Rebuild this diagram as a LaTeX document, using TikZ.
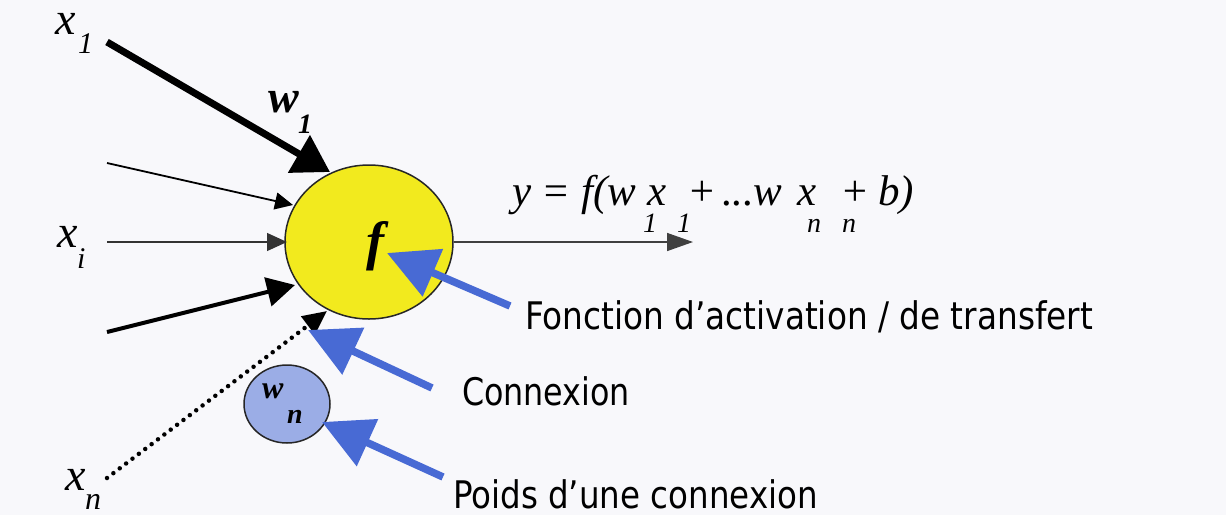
\documentclass[tikz,border=0pt]{standalone}
\usepackage{fontspec}
\usepackage{graphicx}
\setmainfont{Liberation Serif}
\newfontfamily\labelfont{DejaVu Sans}
\usetikzlibrary{arrows.meta,shapes.geometric}
\definecolor{bgcol}{RGB}{248,248,251}
\definecolor{neuronyellow}{RGB}{242,234,30}
\definecolor{weightblue}{RGB}{155,173,230}
\definecolor{pointerblue}{RGB}{72,106,212}
\newcommand{\setfs}[1]{\fontsize{#1}{#1}\selectfont}
\newcommand{\at}[2]{\makebox[0pt][l]{\hspace*{#1}#2}}
\newcommand{\subsc}[1]{\raisebox{-27pt}{\setfs{28}#1}}
\begin{document}
\begin{tikzpicture}[x=1pt,y=-1pt,
  txt/.style={inner sep=0pt, outer sep=0pt, anchor=base west},
  serifit/.style={txt, font=\itshape\setfs{#1}},
  serifbi/.style={txt, font=\bfseries\itshape\setfs{#1}},
  sanslbl/.style={txt, font=\labelfont\setfs{38}},
  thickin/.style={line width=7pt, -{Triangle[length=36pt,width=42pt]}},
  thinin/.style={line width=1.8pt, -{Triangle[length=18pt,width=17pt]}},
  hairin/.style={line width=1.2pt, black!80, -{Triangle[length=20pt,width=18pt]}},
  medin/.style={line width=4pt, -{Triangle[length=28pt,width=29pt]}},
  dotin/.style={line width=4.5pt, line cap=round, dash pattern=on 0pt off 8pt, -{Triangle[length=24pt,width=22pt]}},
  outarrow/.style={line width=1.5pt, black!75, -{Triangle[length=26pt,width=18pt]}},
  pointer/.style={line width=7.5pt, pointerblue, -{Triangle[length=50pt,width=50pt]}}
]
\fill[bgcol] (0,0) rectangle (1226,515);
\useasboundingbox (0,0) rectangle (1226,515);

% neuron body and weight circle
\node[ellipse, draw=black!85, line width=1.5pt, fill=neuronyellow,
      minimum width=168pt, minimum height=154pt, inner sep=0pt] (neuron) at (369,242) {};
\node[ellipse, draw=black!85, line width=1.5pt, fill=weightblue,
      minimum width=86pt, minimum height=78pt, inner sep=0pt] (weight) at (287,404) {};

% input labels
\node[serifit=46] (x1) at (55,34) {x};
\node[serifit=30] (x1s) at (78,53) {1};
\node[serifbi=46] (w1) at (268,112) {w};
\node[serifbi=28] (w1s) at (298,133) {1};
\node[serifit=46] (xi) at (57,247) {x};
\node[serifit=30] (xis) at (77,268) {i};
\node[serifit=46] (xn) at (65,490) {x};
\node[serifit=32] (xns) at (85,509) {n};
\node[serifbi=32] (wn) at (262,398) {w};
\node[serifbi=28] (wns) at (287,423) {n};
\node[serifbi=54, anchor=center] (fsym) at (375,246) {f};

% formula (one node, pieces placed by offset from its left edge)
\node[serifit=43] (formula) at (512,205) {%
  \at{0pt}{y = f(w}\at{131pt}{\subsc{1}}\at{135pt}{x}\at{165pt}{\subsc{1}}%
  \at{175pt}{+}\at{210pt}{...}\at{241pt}{w}\at{285pt}{x}\at{295pt}{\subsc{n}}%
  \at{328pt}{+}\at{330pt}{\subsc{n}}\at{366pt}{b)}\hspace*{415pt}};

% sans labels
\node[sanslbl] (lfonc) at (525,329) {\resizebox{568pt}{\height}{Fonction d’activation / de transfert}};
\node[sanslbl] (lconn) at (462,405) {\resizebox{168pt}{\height}{Connexion}};
\node[sanslbl] (lpoids) at (453,508) {\resizebox{365pt}{\height}{Poids d’une connexion}};

% coordinates
\coordinate (s1) at (107,42);   \coordinate (t1) at (330,172);
\coordinate (s2) at (107,163);  \coordinate (t2) at (293,205);
\coordinate (s3) at (107,242);  \coordinate (t3) at (287,242);
\coordinate (s4) at (107,332);  \coordinate (t4) at (295,285);
\coordinate (s5) at (107,478);  \coordinate (t5) at (327,311);
\coordinate (yout) at (693,242);
\coordinate (pf) at (510,306);  \coordinate (pft) at (387,253);
\coordinate (pc) at (432,388);  \coordinate (pct) at (308,330);
\coordinate (pp) at (443,477);  \coordinate (ppt) at (322,422);

% input connectors
\draw[thickin] (s1) -- (t1);
\draw[thinin] (s2) -- (t2);
\draw[hairin] (s3) -- (t3);
\draw[medin] (s4) -- (t4);
\draw[dotin] (s5) -- (t5);

% output
\draw[outarrow] (neuron.east) -- (yout);

% blue pointers
\draw[pointer] (pf) -- (pft);
\draw[pointer] (pc) -- (pct);
\draw[pointer] (pp) -- (ppt);
\end{tikzpicture}
\end{document}
